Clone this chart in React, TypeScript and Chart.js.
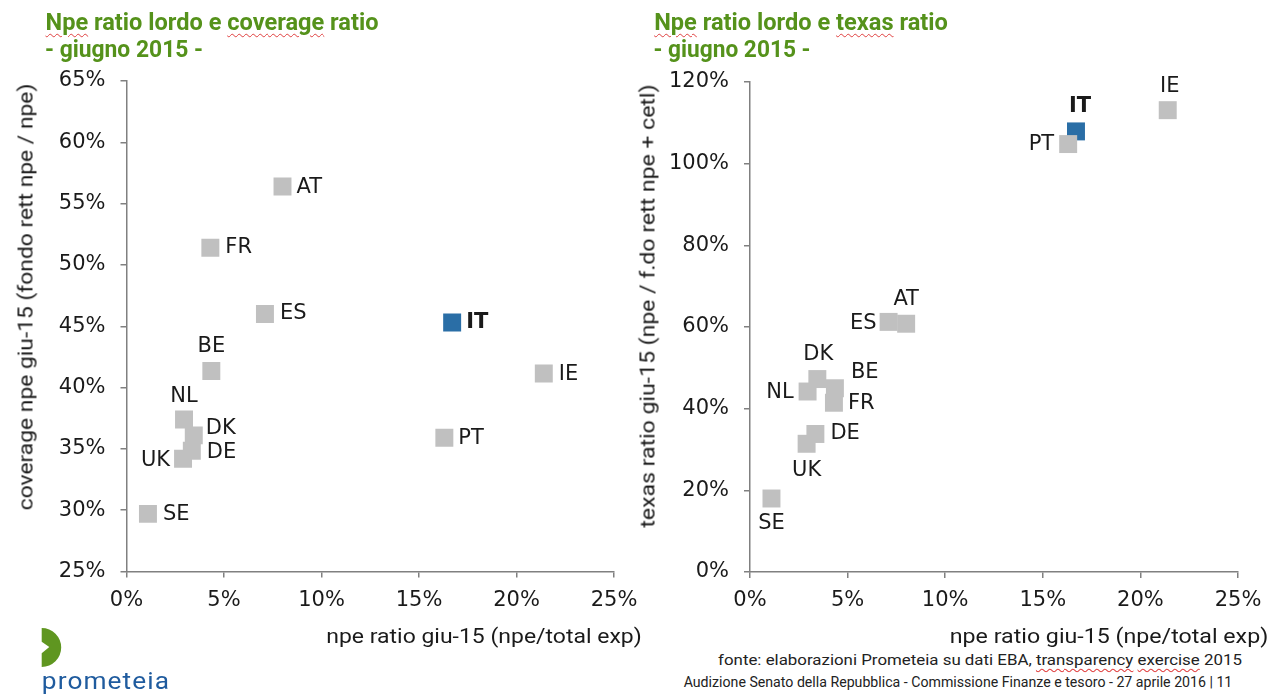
import React, { useEffect, useLayoutEffect, useRef, useState } from "react";
import { Chart, registerables } from "chart.js";

Chart.register(...registerables);

// ---------- DATA ----------
const countries = ["AT", "FR", "ES", "IT", "BE", "IE", "NL", "DK", "DE", "UK", "PT", "SE"];
const npeRatio = [8.0, 4.3, 7.1, 16.7, 4.35, 21.4, 2.95, 3.45, 3.35, 2.9, 16.3, 1.1];
const coverageRatio = [56.4, 51.4, 46.0, 45.3, 41.35, 41.15, 37.4, 36.1, 34.85, 34.2, 35.9, 29.7];
const texasRatio = [60.8, 41.45, 61.25, 107.9, 45.0, 113.1, 44.2, 47.25, 33.8, 31.4, 104.8, 18.0];
const highlight = "IT";

const xTicks = [0, 5, 10, 15, 20, 25];

// label placement (dx, dy, align) per country
type Place = [number, number, CanvasTextAlign];
const leftPlace: Record<string, Place> = {
  AT: [14, 1, "left"], FR: [15, 0, "left"], ES: [15, 0, "left"], IT: [14, 0, "left"],
  BE: [0, -24, "center"], IE: [15, 1, "left"], NL: [0, -23, "center"], DK: [12, -7, "left"],
  DE: [15, 2, "left"], UK: [-13, 2, "right"], PT: [14, 1, "left"], SE: [15, 1, "left"],
};
const rightPlace: Record<string, Place> = {
  AT: [0, -24, "center"], FR: [14, 1, "left"], ES: [-12, 2, "right"], IT: [4, -25, "center"],
  BE: [16, -16, "left"], IE: [2, -24, "center"], NL: [-14, 1, "right"], DK: [1, -25, "center"],
  DE: [15, 0, "left"], UK: [0, 27, "center"], PT: [-14, 0, "right"], SE: [0, 25, "center"],
};

const GREY = "#c0c0c0";
const BLUE = "#2a6ea6";
const AXIS = "#808080";
const TXT = "#1a1a1a";
const GREEN = "#55921b";
const TICK_FONT = { family: "'DejaVu Sans', sans-serif", size: 21 };

const labelPlugin = {
  id: "pointLabels",
  afterDatasetsDraw(chart: any) {
    const ctx = chart.ctx;
    const place = chart.options.plugins.pointLabels.place as Record<string, Place>;
    ctx.save();
    ctx.fillStyle = TXT;
    ctx.textBaseline = "middle";
    chart.data.datasets.forEach((ds: any, di: number) => {
      const meta = chart.getDatasetMeta(di);
      meta.data.forEach((el: any, i: number) => {
        const c = ds.data[i].c;
        const p = place[c];
        ctx.font = `${c === highlight ? "bold " : ""}21px 'DejaVu Sans', sans-serif`;
        ctx.textAlign = p[2];
        ctx.fillText(c, el.x + p[0], el.y + p[1]);
      });
    });
    ctx.restore();
  },
};

function buildPoints(ys: number[], hl: boolean) {
  return countries
    .map((c, i) => ({ x: npeRatio[i], y: ys[i], c }))
    .filter((p) => (p.c === highlight) === hl);
}

function makeConfig(
  ys: number[],
  yMin: number,
  yMax: number,
  yStep: number,
  place: Record<string, Place>,
  yWidth: number,
  pad: { left: number; right: number; top: number; bottom: number }
): any {
  return {
    type: "scatter",
    data: {
      datasets: [
        {
          data: buildPoints(ys, false),
          pointStyle: "rect",
          pointRadius: 12.7,
          backgroundColor: GREY,
          borderColor: GREY,
          borderWidth: 0,
        },
        {
          data: buildPoints(ys, true),
          pointStyle: "rect",
          pointRadius: 12.7,
          backgroundColor: BLUE,
          borderColor: BLUE,
          borderWidth: 0,
        },
      ],
    },
    options: {
      responsive: false,
      animation: false,
      layout: { padding: pad },
      plugins: {
        legend: { display: false },
        tooltip: { enabled: false },
        pointLabels: { place },
      },
      scales: {
        x: {
          type: "linear",
          min: 0,
          max: 25,
          afterBuildTicks: (s: any) => { s.ticks = xTicks.map((v) => ({ value: v })); },
          afterFit: (s: any) => { s.height = 40; s.paddingLeft = 0; s.paddingRight = 0; },
          grid: { drawOnChartArea: false, drawTicks: true, tickLength: 6, color: AXIS, lineWidth: 1.5 },
          border: { display: true, color: AXIS, width: 1.5 },
          ticks: { padding: 10, color: TXT, font: TICK_FONT, maxRotation: 0, callback: (v: any) => `${v}%` },
        },
        y: {
          type: "linear",
          min: yMin,
          max: yMax,
          ticks: { stepSize: yStep, padding: 15, color: TXT, font: TICK_FONT, callback: (v: any) => `${v}%` },
          afterFit: (s: any) => { s.width = yWidth; s.paddingTop = 0; s.paddingBottom = 0; },
          grid: { drawOnChartArea: false, drawTicks: true, tickLength: 6, color: AXIS, lineWidth: 1.5 },
          border: { display: true, color: AXIS, width: 1.5 },
        },
      },
    },
    plugins: [labelPlugin],
  };
}

function ChartCanvas({ left, width, height, config }: { left: number; width: number; height: number; config: any }) {
  const ref = useRef<HTMLCanvasElement>(null);
  useEffect(() => {
    if (!ref.current) return;
    const ch = new Chart(ref.current, config);
    return () => ch.destroy();
  }, []);
  return (
    <canvas
      ref={ref}
      width={width}
      height={height}
      style={{ position: "absolute", left, top: 0, width, height }}
    />
  );
}

function FitText({ cx, cy, w, rotate, style, children }: any) {
  const ref = useRef<HTMLDivElement>(null);
  const [s, setS] = useState(1);
  useLayoutEffect(() => {
    if (ref.current) setS(w / ref.current.offsetWidth);
  }, [w]);
  return (
    <div
      ref={ref}
      style={{
        position: "absolute",
        left: cx,
        top: cy,
        whiteSpace: "nowrap",
        lineHeight: 1,
        fontFamily: "Roboto, sans-serif",
        transform: `translate(-50%, -50%) ${rotate ? "rotate(-90deg)" : ""} scaleX(${s})`,
        ...style,
      }}
    >
      {children}
    </div>
  );
}

const wavy: React.CSSProperties = {
  textDecorationLine: "underline",
  textDecorationStyle: "wavy",
  textDecorationColor: "#e04040",
  textDecorationThickness: "1px",
  textUnderlineOffset: "3px",
};

export default function App() {
  const titleStyle = { fontSize: 24, fontWeight: 700, color: GREEN };
  const axisStyle = { fontSize: 21, color: TXT };
  const footStyle = { fontSize: 15, color: "#222" };

  const leftCfg = makeConfig(coverageRatio, 25, 65, 5, leftPlace, 126.5, { left: 0, right: 26, top: 81, bottom: 28.5 });
  const rightCfg = makeConfig(texasRatio, 0, 120, 20, rightPlace, 110, { left: 0, right: 41, top: 82, bottom: 28 });

  return (
    <div style={{ position: "absolute", left: 0, top: 0, width: 1279, height: 695, background: "#fff", overflow: "hidden" }}>
      <ChartCanvas left={0} width={640} height={640} config={leftCfg} />
      <ChartCanvas left={640} width={639} height={640} config={rightCfg} />

      <FitText cx={211.5} cy={22} w={333} style={titleStyle}>
        <span style={wavy}>Npe</span> ratio lordo e <span style={wavy}>coverage</span> ratio
      </FitText>
      <FitText cx={124} cy={49} w={158} style={titleStyle}>- giugno 2015 -</FitText>
      <FitText cx={800.5} cy={22} w={294} style={titleStyle}>
        <span style={wavy}>Npe</span> ratio lordo e <span style={wavy}>texas</span> ratio
      </FitText>
      <FitText cx={732} cy={49} w={157} style={titleStyle}>- giugno 2015 -</FitText>

      <FitText cx={26} cy={297} w={427} rotate style={axisStyle}>coverage npe giu-15 (fondo rett npe / npe)</FitText>
      <FitText cx={648} cy={306} w={443} rotate style={axisStyle}>texas ratio giu-15 (npe / f.do rett npe + cetl)</FitText>
      <FitText cx={483.5} cy={636} w={315} style={axisStyle}>npe ratio giu-15 (npe/total exp)</FitText>
      <FitText cx={1109} cy={636} w={318} style={axisStyle}>npe ratio giu-15 (npe/total exp)</FitText>

      <FitText cx={980} cy={660} w={524} style={footStyle}>
        fonte: elaborazioni Prometeia su dati EBA, <span style={wavy}>transparency</span> <span style={wavy}>exercise</span> 2015
      </FitText>
      <FitText cx={957.5} cy={682} w={549} style={footStyle}>
        Audizione Senato della Repubblica - Commissione Finanze e tesoro - 27 aprile 2016 | 11
      </FitText>

      <svg style={{ position: "absolute", left: 40, top: 626 }} width={26} height={44} viewBox="0 0 26 44">
        <path d="M1.7 2 A19.5 19.5 0 0 1 1.7 41 L1.7 27.3 L9.3 21 L1.7 15.7 Z" fill="#5f9620" />
      </svg>
      <FitText cx={106} cy={681} w={128} style={{ fontSize: 24, color: "#1f5b9e", letterSpacing: 1 }}>prometeia</FitText>
    </div>
  );
}
